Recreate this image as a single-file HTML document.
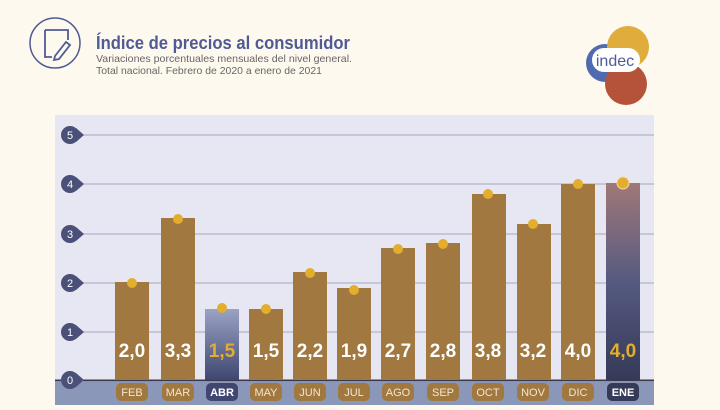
<!DOCTYPE html><html><head><style>body{margin:0;background:#fef9ef;width:720px;height:405px;overflow:hidden;font-family:"Liberation Sans",sans-serif}</style></head><body>
<svg width="720" height="405" xmlns="http://www.w3.org/2000/svg" font-family="Liberation Sans, sans-serif">
<rect width="720" height="405" fill="#fef9ef"/>
<circle cx="55" cy="43" r="25" fill="none" stroke="#4f5b94" stroke-width="1.5"/>
<path d="M45 30 L45 57 L52 57 M45 30 L68 30 L68 40" fill="none" stroke="#4f5b94" stroke-width="1.8"/>
<path d="M55 56 L66 42 L70 45 L59 59 L54 60 Z" fill="none" stroke="#4f5b94" stroke-width="1.8"/>
<text x="96" y="49" font-size="18" font-weight="bold" fill="#4f5b94" textLength="254" lengthAdjust="spacingAndGlyphs">Índice de precios al consumidor</text>
<text x="96" y="62" font-size="10.5" fill="#666" textLength="256" lengthAdjust="spacingAndGlyphs">Variaciones porcentuales mensuales del nivel general.</text>
<text x="96" y="74" font-size="10.5" fill="#666" textLength="226" lengthAdjust="spacingAndGlyphs">Total nacional. Febrero de 2020 a enero de 2021</text>
<circle cx="605" cy="63" r="19" fill="#4f6ab0"/>
<circle cx="628" cy="47" r="21" fill="#e0ad3c"/>
<circle cx="626" cy="84" r="21" fill="#b4533a"/>
<rect x="592" y="48" width="48" height="24" rx="12" fill="#fff"/>
<text x="615" y="66" font-size="16" fill="#4f5b94" text-anchor="middle">indec</text>
<rect x="55" y="115" width="599" height="290" fill="#e7e6f3"/>
<rect x="55" y="382" width="599" height="23" fill="#8b97b8"/>
<g stroke="#b3b3c9" stroke-width="1.2">
<line x1="70" x2="654" y1="332" y2="332"/><line x1="70" x2="654" y1="283" y2="283"/><line x1="70" x2="654" y1="234" y2="234"/><line x1="70" x2="654" y1="184" y2="184"/><line x1="70" x2="654" y1="135" y2="135"/></g>
<defs>
<linearGradient id="a" x1="0" y1="0" x2="0" y2="1"><stop offset="0" stop-color="#9aa3c4"/><stop offset="1" stop-color="#3f4670"/></linearGradient>
<linearGradient id="e" x1="0" y1="0" x2="0" y2="1"><stop offset="0" stop-color="#a07878"/><stop offset=".5" stop-color="#555a80"/><stop offset="1" stop-color="#353a58"/></linearGradient>
</defs>
<line x1="55" x2="654" y1="380.5" y2="380.5" stroke="#3a3a4a" stroke-width="2"/>
<g font-size="11" text-anchor="middle">
<g fill="#4a5078">
<circle cx="70" cy="380" r="9"/><circle cx="70" cy="332" r="9"/><circle cx="70" cy="283" r="9"/><circle cx="70" cy="234" r="9"/><circle cx="70" cy="184" r="9"/><circle cx="70" cy="135" r="9"/>
<path d="M76 373 L84 380 L76 387Z M76 325 L84 332 L76 339Z M76 276 L84 283 L76 290Z M76 227 L84 234 L76 241Z M76 177 L84 184 L76 191Z M76 128 L84 135 L76 142Z"/></g>
<g fill="#fff"><text x="70" y="384">0</text><text x="70" y="336">1</text><text x="70" y="287">2</text><text x="70" y="238">3</text><text x="70" y="188">4</text><text x="70" y="139">5</text></g>
</g>
<g fill="#a07840">
<rect x="115" y="282" width="34" height="98"/>
<rect x="161" y="218" width="34" height="162"/>
<rect x="205" y="309" width="34" height="71" fill="url(#a)"/>
<rect x="249" y="309" width="34" height="71"/>
<rect x="293" y="272" width="34" height="108"/>
<rect x="337" y="288" width="34" height="92"/>
<rect x="381" y="248" width="34" height="132"/>
<rect x="426" y="243" width="34" height="137"/>
<rect x="472" y="194" width="34" height="186"/>
<rect x="517" y="224" width="34" height="156"/>
<rect x="561" y="184" width="34" height="196"/>
<rect x="606" y="183" width="34" height="197" fill="url(#e)"/>
</g>
<g fill="#e3ae2e">
<circle cx="132" cy="283" r="5"/><circle cx="178" cy="219" r="5"/><circle cx="222" cy="308" r="5"/><circle cx="266" cy="309" r="5"/><circle cx="310" cy="273" r="5"/><circle cx="354" cy="290" r="5"/><circle cx="398" cy="249" r="5"/><circle cx="443" cy="244" r="5"/><circle cx="488" cy="194" r="5"/><circle cx="533" cy="224" r="5"/><circle cx="578" cy="184" r="5"/><circle cx="623" cy="183" r="6" stroke="#f7d8a0" stroke-width="1"/>
</g>
<g font-size="19" font-weight="bold" fill="#fff" text-anchor="middle">
<text x="132" y="357">2,0</text><text x="178" y="357">3,3</text><text x="222" y="357" fill="#e3ae2e">1,5</text><text x="266" y="357">1,5</text><text x="310" y="357">2,2</text><text x="354" y="357">1,9</text><text x="398" y="357">2,7</text><text x="443" y="357">2,8</text><text x="488" y="357">3,8</text><text x="533" y="357">3,2</text><text x="578" y="357">4,0</text><text x="623" y="357" fill="#e3ae2e">4,0</text>
</g>
<g fill="#a07840">
<rect x="116" y="383" width="32" height="18" rx="5"/><rect x="162" y="383" width="32" height="18" rx="5"/><rect x="206" y="383" width="32" height="18" rx="5" fill="#3f4670"/><rect x="250" y="383" width="32" height="18" rx="5"/><rect x="294" y="383" width="32" height="18" rx="5"/><rect x="338" y="383" width="32" height="18" rx="5"/><rect x="382" y="383" width="32" height="18" rx="5"/><rect x="427" y="383" width="32" height="18" rx="5"/><rect x="472" y="383" width="32" height="18" rx="5"/><rect x="517" y="383" width="32" height="18" rx="5"/><rect x="562" y="383" width="32" height="18" rx="5"/><rect x="607" y="383" width="32" height="18" rx="5" fill="#353a58"/>
</g>
<g font-size="11" fill="#f3e6d0" text-anchor="middle">
<text x="132" y="396">FEB</text><text x="178" y="396">MAR</text><text x="222" y="396" fill="#fff" font-weight="bold">ABR</text><text x="266" y="396">MAY</text><text x="310" y="396">JUN</text><text x="354" y="396">JUL</text><text x="398" y="396">AGO</text><text x="443" y="396">SEP</text><text x="488" y="396">OCT</text><text x="533" y="396">NOV</text><text x="578" y="396">DIC</text><text x="623" y="396" fill="#fff" font-weight="bold">ENE</text>
</g>
</svg></body></html>
